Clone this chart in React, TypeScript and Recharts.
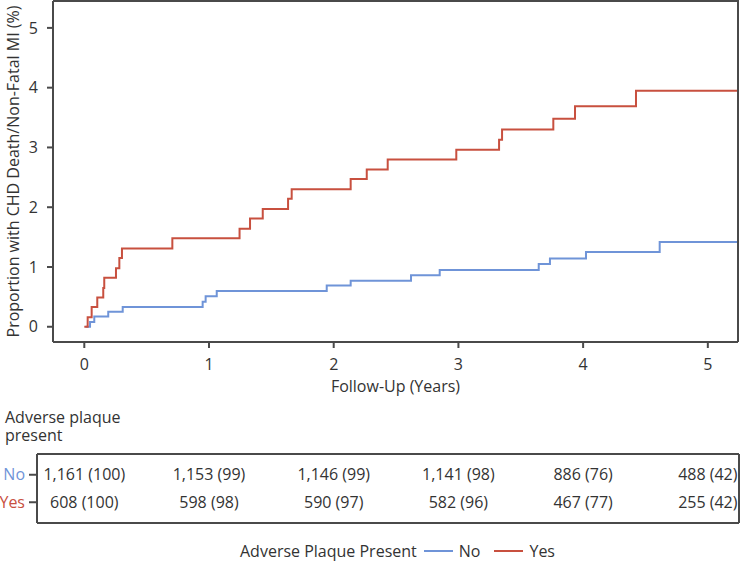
import React from 'react';
import { LineChart, Line, XAxis, YAxis, Legend, ScatterChart, Scatter } from 'recharts';

const FONT = '"Open Sans", sans-serif';
const INK = '#333';
const FRAME = '#4a4a4a';
const BLUE = '#6f94d8';
const RED = '#c8503f';

const yearTicks = [0, 1, 2, 3, 4, 5];
const pctTicks = [0, 1, 2, 3, 4, 5];
const plotX: [number, number] = [-0.251, 5.242];
const plotY: [number, number] = [-0.255, 5.45];
const tableX: [number, number] = [-0.3793, 5.2502];

// step curves (years, %)
const timeYes = [0, 0.027, 0.059, 0.104, 0.152, 0.16, 0.254, 0.281, 0.302, 0.706, 1.245, 1.329, 1.431, 1.634, 1.663, 2.136, 2.265, 2.433, 2.983, 3.326, 3.35, 3.761, 3.935, 4.424, 5.24];
const riskYes = [0, 0.16, 0.33, 0.49, 0.65, 0.82, 0.98, 1.15, 1.31, 1.48, 1.64, 1.81, 1.97, 2.14, 2.3, 2.47, 2.63, 2.8, 2.96, 3.13, 3.3, 3.48, 3.69, 3.95, 3.95];
const timeNo = [0.01, 0.046, 0.08, 0.192, 0.308, 0.949, 0.973, 1.062, 1.944, 2.136, 2.62, 2.85, 3.644, 3.734, 4.023, 4.614, 5.24];
const riskNo = [0, 0.08, 0.17, 0.25, 0.33, 0.42, 0.51, 0.6, 0.69, 0.77, 0.86, 0.95, 1.05, 1.14, 1.25, 1.42, 1.42];

// numbers at risk under each year tick
const atRiskNo = ['1,161 (100)', '1,153 (99)', '1,146 (99)', '1,141 (98)', '886 (76)', '488 (42)'];
const atRiskYes = ['608 (100)', '598 (98)', '590 (97)', '582 (96)', '467 (77)', '255 (42)'];

const yesData = timeYes.map((t, i) => ({ t, p: riskYes[i] }));
const noData = timeNo.map((t, i) => ({ t, p: riskNo[i] }));
const noRow = yearTicks.map((t, i) => ({ t, group: 'No', label: atRiskNo[i] }));
const yesRow = yearTicks.map((t, i) => ({ t, group: 'Yes', label: atRiskYes[i] }));

const tickFont = { fontFamily: FONT, fontSize: 16, fill: INK };

const XTitle = (props: any) => {
  const { viewBox } = props;
  return (
    <text x={viewBox.x + viewBox.width / 2} y={viewBox.y + 49.5} textAnchor="middle" style={tickFont}>
      Follow-Up (Years)
    </text>
  );
};

const YTitle = (props: any) => {
  const { viewBox } = props;
  const cy = viewBox.y + viewBox.height / 2;
  return (
    <text x={18.5} y={cy} textAnchor="middle" transform={`rotate(-90, 18.5, ${cy})`} style={tickFont}>
      Proportion with CHD Death/Non-Fatal MI (%)
    </text>
  );
};

const KeyContent = (props: any) => {
  const items = props.payload || [];
  return (
    <div style={{ display: 'flex', alignItems: 'center', height: 28, paddingTop: 8, boxSizing: 'border-box', fontFamily: FONT, fontSize: 16, color: INK, whiteSpace: 'nowrap' }}>
      <span style={{ marginRight: 7 }}>Adverse Plaque Present</span>
      {items.map((it: any) => (
        <span key={it.value} style={{ display: 'flex', alignItems: 'center', marginRight: 14 }}>
          <span style={{ display: 'inline-block', width: 29, height: 2, background: it.color, marginRight: 6 }} />
          {it.value}
        </span>
      ))}
    </div>
  );
};

const RowTick = (props: any) => {
  const { x, y, payload } = props;
  return (
    <text x={x} y={y} dy="0.355em" textAnchor="end" style={{ ...tickFont, fill: payload.value === 'No' ? BLUE : RED }}>
      {payload.value}
    </text>
  );
};

const CountCell = (props: any) => (
  <text x={props.cx} y={props.cy} dy="0.355em" textAnchor="middle" style={tickFont}>
    {props.payload.label}
  </text>
);

// plain axis lines closing the table box on the top and right
const edgeProps = { tick: false, tickLine: false, stroke: FRAME, strokeWidth: 2, allowDataOverflow: true, type: 'number' as const };

export default function App() {
  return (
    <div style={{ position: 'absolute', left: 0, top: 0, width: 756, height: 561, background: '#fff' }}>
      <div style={{ position: 'absolute', left: 0, top: 0 }}>
        <LineChart width={756} height={561} margin={{ top: 1, right: 18, left: 0, bottom: 133 }}>
          <XAxis
            type="number"
            dataKey="t"
            domain={plotX}
            allowDataOverflow
            ticks={yearTicks}
            height={58}
            tickSize={6}
            tickMargin={11}
            tick={tickFont}
            stroke={FRAME}
            strokeWidth={2}
            label={XTitle}
          />
          <YAxis
            type="number"
            domain={plotY}
            allowDataOverflow
            ticks={pctTicks}
            width={53}
            tickSize={6}
            tickMargin={9}
            tick={tickFont}
            stroke={FRAME}
            strokeWidth={2}
            label={YTitle}
          />
          <Line data={noData} dataKey="p" name="No" type="stepAfter" stroke={BLUE} strokeWidth={2} dot={false} isAnimationActive={false} />
          <Line data={yesData} dataKey="p" name="Yes" type="stepAfter" stroke={RED} strokeWidth={2} dot={false} isAnimationActive={false} />
          <Legend verticalAlign="bottom" align="left" content={KeyContent} wrapperStyle={{ left: 240, bottom: 0, width: 380 }} />
        </LineChart>
      </div>
      <div style={{ position: 'absolute', left: 5, top: 408, fontFamily: FONT, fontSize: 16, lineHeight: '18px', color: INK }}>
        Adverse plaque<br />present
      </div>
      <div style={{ position: 'absolute', left: 0, top: 440 }}>
        <ScatterChart width={756} height={93} margin={{ top: 13, right: 16, left: 0, bottom: 0 }}>
          <XAxis type="number" dataKey="t" domain={tableX} allowDataOverflow ticks={yearTicks} height={10} tick={false} tickSize={7} stroke={FRAME} strokeWidth={2} />
          <XAxis xAxisId="top" orientation="top" domain={tableX} height={1} {...edgeProps} />
          <YAxis type="category" dataKey="group" allowDuplicatedCategory={false} reversed width={37} padding={{ top: 7, bottom: 7 }} tickSize={8} tickMargin={4} tick={RowTick} stroke={FRAME} strokeWidth={2} />
          <YAxis yAxisId="right" orientation="right" domain={[0, 1]} width={1} {...edgeProps} />
          <Scatter data={noRow} shape={CountCell} isAnimationActive={false} />
          <Scatter data={yesRow} shape={CountCell} isAnimationActive={false} />
        </ScatterChart>
      </div>
      {/* top and right edges of the plot box, drawn last so nothing covers them */}
      <div style={{ position: 'absolute', left: 53, top: 0, width: 686, height: 342, borderTop: `2px solid ${FRAME}`, borderRight: `2px solid ${FRAME}`, boxSizing: 'border-box', pointerEvents: 'none' }} />
    </div>
  );
}
